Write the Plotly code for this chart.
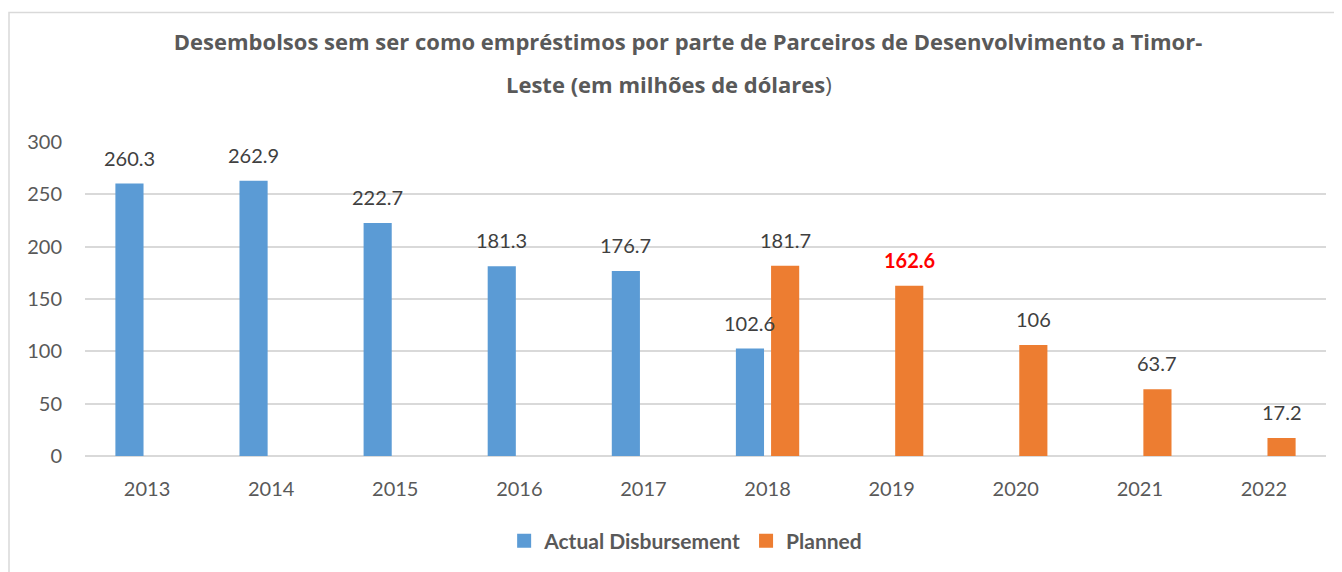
import plotly.graph_objects as go

years = ["2013", "2014", "2015", "2016", "2017", "2018", "2019", "2020", "2021", "2022"]
actual = [260.3, 262.9, 222.7, 181.3, 176.7, 102.6, None, None, None, None]
planned = [None, None, None, None, None, 181.7, 162.6, 106, 63.7, 17.2]
y_ticks = [0, 50, 100, 150, 200, 250, 300]

BLUE = "#5B9BD5"
ORANGE = "#ED7D31"
GRID = "#D9D9D9"
TXT = "#595959"
LBL = "#404040"
FONT = "Lato, 'Open Sans', sans-serif"
TFONT = "'Open Sans', sans-serif"

W, H = 1334, 564
L, R, T, B = 77, 16, 134, 115
PW, PH = W - L - R, H - T - B

fig = go.Figure()
fig.add_trace(go.Bar(x=years, y=actual, name="Actual Disbursement", showlegend=False,
                     marker=dict(color=BLUE, line=dict(width=0))))
fig.add_trace(go.Bar(x=years, y=planned, name="Planned", showlegend=False,
                     marker=dict(color=ORANGE, line=dict(width=0))))
# legend entries with square swatches
for name, col in (("Actual Disbursement", BLUE), ("Planned", ORANGE)):
    fig.add_trace(go.Scatter(x=[None], y=[None], mode="markers", name=name,
                             marker=dict(symbol="square", size=14, color=col)))

# data labels (x given as category index)
annotations = []
for series, shift in ((actual, -17.6), (planned, 17.6)):
    for i, v in enumerate(series):
        if v is None:
            continue
        red = (years[i] == "2019" and series is planned)
        txt = f"{v:g}"
        annotations.append(dict(
            x=i, y=v, xref="x", yref="y", text=("<b>%s</b>" % txt) if red else txt,
            showarrow=False, xshift=shift, yshift=26, yanchor="middle",
            font=dict(family=FONT, size=20, color="#FF0000" if red else LBL)))

# second title line
annotations.append(dict(
    x=(661 - L) / PW, y=(T + PH - 76) / PH, xref="paper", yref="paper",
    text="<b>Leste (em milhões de dólares</b>)", showarrow=False,
    xanchor="center", yanchor="middle",
    font=dict(family=TFONT, size=22, color=TXT)))

fig.update_layout(
    width=W, height=H,
    margin=dict(l=L, r=R, t=T, b=B),
    paper_bgcolor="white", plot_bgcolor="white",
    barmode="group", bargap=0.433, bargroupgap=0.2,
    title=dict(
        text="<b>Desembolsos sem ser como empréstimos por parte de Parceiros de Desenvolvimento a Timor-</b>",
        x=680 / W, xref="container", xanchor="center",
        y=1 - 34 / H, yref="container", yanchor="middle",
        font=dict(family=TFONT, size=22, color=TXT)),
    xaxis=dict(type="category", showgrid=False, showline=False, ticks="",
               tickfont=dict(family=FONT, size=20, color=TXT), ticklabelstandoff=19),
    yaxis=dict(range=[0, 300], tickvals=y_ticks, showgrid=True, gridcolor=GRID, gridwidth=1.5,
               zeroline=True, zerolinecolor=GRID, zerolinewidth=1.5, showline=False, ticks="",
               tickfont=dict(family=FONT, size=20, color=TXT), ticklabelstandoff=22),
    legend=dict(orientation="h", x=0.484, xanchor="center", y=-0.267, yanchor="middle",
                font=dict(family=FONT, size=21, color=TXT, weight="bold"),
                itemwidth=30, tracegroupgap=0),
    annotations=annotations,
    shapes=[dict(type="rect", xref="paper", yref="paper",
                 x0=(1 - L) / PW, x1=1.2, y0=-0.6, y1=(T + PH - 4) / PH,
                 line=dict(color=GRID, width=1.5), layer="below")],
)

fig.write_html("out.html")
